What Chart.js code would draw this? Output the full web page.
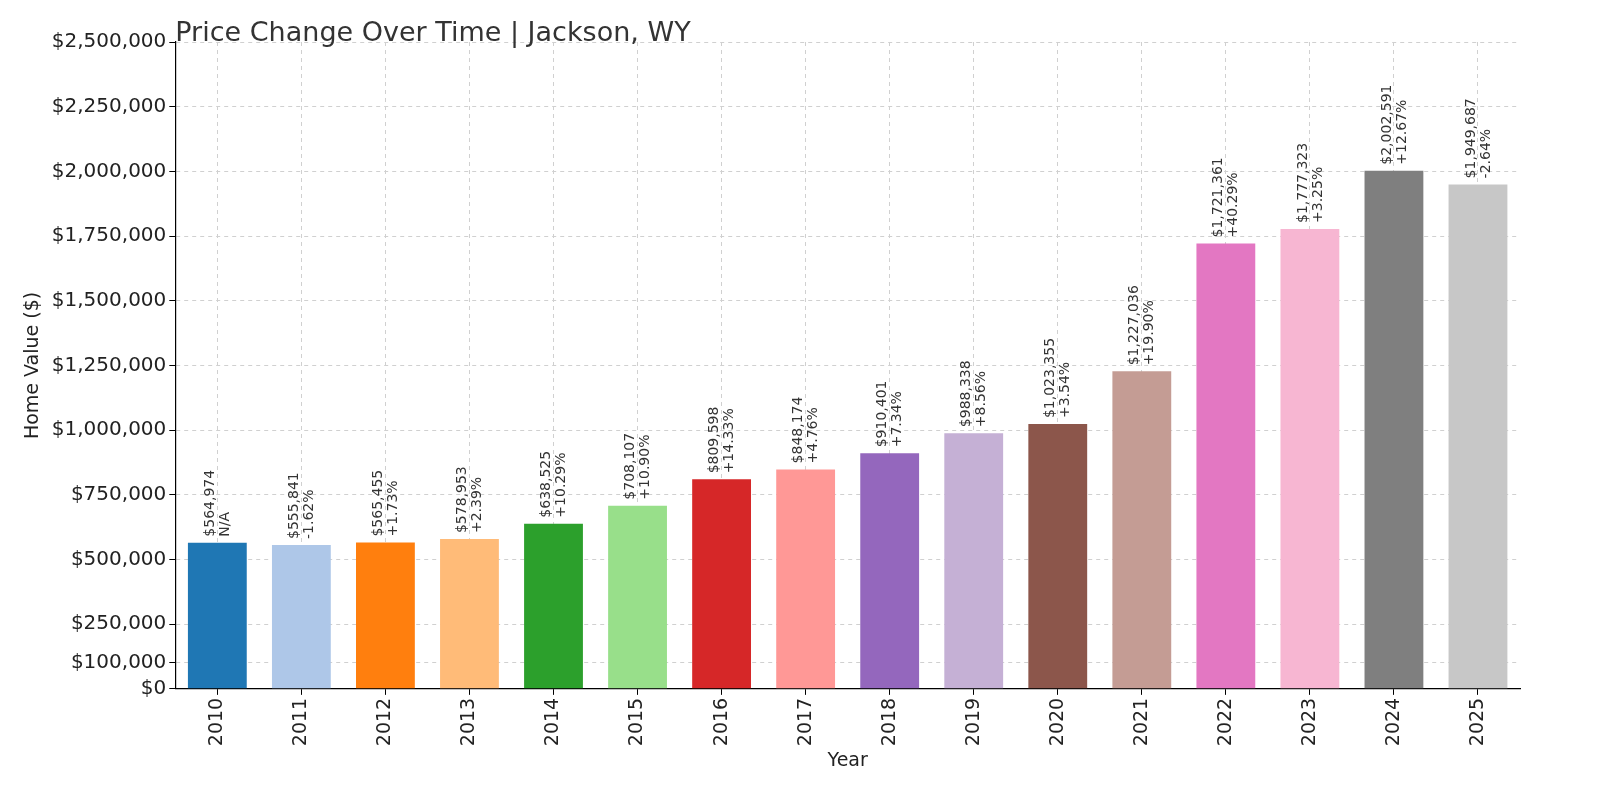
<!DOCTYPE html>
<html>
<head>
<meta charset="utf-8">
<script src="https://cdn.jsdelivr.net/npm/chart.js@4"></script>
<style>
html,body{margin:0;padding:0;background:#fff;}
#wrap{width:1600px;height:800px;}
</style>
</head>
<body>
<div id="wrap"><canvas id="c" width="1600" height="800"></canvas></div>
<script>
// donnees
var years = ['2010','2011','2012','2013','2014','2015','2016','2017','2018','2019','2020','2021','2022','2023','2024','2025'];
var values = [564974,555841,565455,578953,638525,708107,809598,848174,910401,988338,1023355,1227036,1721361,1777323,2002591,1949687];
var changes = ['N/A','-1.62%','+1.73%','+2.39%','+10.29%','+10.90%','+14.33%','+4.76%','+7.34%','+8.56%','+3.54%','+19.90%','+40.29%','+3.25%','+12.67%','-2.64%'];
var yTicks = [0,100000,250000,500000,750000,1000000,1250000,1500000,1750000,2000000,2250000,2500000];
var colors = ['#1f77b4','#aec7e8','#ff7f0e','#ffbb78','#2ca02c','#98df8a','#d62728','#ff9896','#9467bd','#c5b0d5','#8c564b','#c49c94','#e377c2','#f7b6d2','#7f7f7f','#c7c7c7'];
var titre = 'Price Change Over Time | Jackson, WY';

function fmt(v){ return '$' + v.toLocaleString('en-US'); }

// etiquettes au-dessus des barres + titre
var barLabels = {
    id: 'barLabels',
    afterDatasetsDraw: function(chart){
        var ctx = chart.ctx;
        var meta = chart.getDatasetMeta(0);
        ctx.save();
        ctx.font = '14px "DejaVu Sans"';
        ctx.fillStyle = '#333';
        ctx.textAlign = 'left';
        ctx.textBaseline = 'middle';
        for (var i in meta.data){
            var bar = meta.data[i];
            ctx.save();
            ctx.translate(bar.x, bar.y - 6);
            ctx.rotate(-Math.PI/2);
            ctx.fillText(fmt(values[i]), 0, -7);
            ctx.fillText(changes[i], 0, 8);
            ctx.restore();
        }
        ctx.font = '27px "DejaVu Sans"';
        ctx.textBaseline = 'alphabetic';
        ctx.fillText(titre, chart.chartArea.left, 41);
        ctx.restore();
    }
};

new Chart(document.getElementById('c').getContext('2d'), {
    type: 'bar',
    data: {
        labels: years,
        datasets: [{
            data: values,
            backgroundColor: colors,
            barPercentage: 0.7,
            categoryPercentage: 1
        }]
    },
    options: {
        responsive: false,
        animation: false,
        layout: { padding: { left: 18, right: 80, top: 42, bottom: 28 } },
        plugins: {
            legend: { display: false },
            tooltip: { enabled: false },
            title: { display: false }
        },
        scales: {
            x: {
                grid: { offset: false, color: '#d0d0d0', drawTicks: true, tickColor: '#000', tickLength: 6 },
                border: { color: '#000', width: 1.2, dash: [4,4] },
                ticks: { color: '#222', font: { size: 19, family: 'DejaVu Sans' }, minRotation: 90, maxRotation: 90 },
                title: { display: true, text: 'Year', color: '#222', font: { size: 19, family: 'DejaVu Sans' }, padding: 0 }
            },
            y: {
                min: 0, max: 2500000,
                afterBuildTicks: function(axis){ axis.ticks = yTicks.map(function(v){ return {value: v}; }); },
                grid: { color: '#d0d0d0', tickColor: '#000', tickLength: 6 },
                border: { color: '#000', width: 1.2, dash: [4,4] },
                ticks: { color: '#222', font: { size: 20, family: 'DejaVu Sans' }, callback: function(v){ return fmt(v); }, autoSkip: false },
                title: { display: true, text: 'Home Value ($)', color: '#222', font: { size: 19, family: 'DejaVu Sans' } }
            }
        }
    },
    plugins: [barLabels]
});
</script>
</body>
</html>
